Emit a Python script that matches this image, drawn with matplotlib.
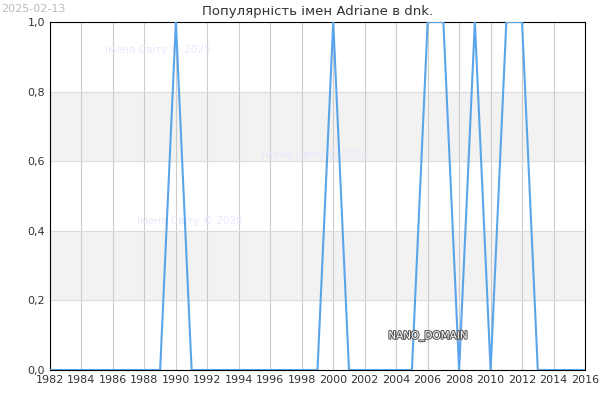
import matplotlib
matplotlib.use("Agg")
import matplotlib.pyplot as plt
import matplotlib.patheffects as pe

years = list(range(1982, 2017))
values = [0] * len(years)
for y in [1990, 2000, 2006, 2007, 2009, 2011, 2012]:
    values[years.index(y)] = 1
yticks = [0.0, 0.2, 0.4, 0.6, 0.8, 1.0]
xticks = list(range(1982, 2017, 2))

fig = plt.figure(figsize=(6, 4), dpi=100)
ax = fig.add_axes([50 / 600, 30 / 400, 535 / 600, 348 / 400])
ax.axhspan(0.2, 0.4, color="#f2f2f2", zorder=0)
ax.axhspan(0.6, 0.8, color="#f2f2f2", zorder=0)
for x in xticks:
    ax.axvline(x, color="#cccccc", lw=0.8, zorder=1)
for y in yticks:
    ax.axhline(y, color="#dddddd", lw=0.8, zorder=1)
ax.plot(years, values, color="#5aa5ea", lw=1.5, zorder=3)
ax.set_xlim(1982, 2016)
ax.set_ylim(0, 1)
ax.set_xticks(xticks)
ax.set_yticks(yticks)
ax.set_yticklabels([f"{v:.1f}".replace(".", ",") for v in yticks])
ax.tick_params(labelsize=8, length=0, colors="#333333")
for s in ax.spines.values():
    s.set_color("black")
ax.set_title("Популярність імен Adriane в dnk.", fontsize=9.5, color="#333333", pad=5)
fig.text(0.002, 0.99, "2025-02-13", fontsize=8, color="#bbbbbb", va="top")
for (tx, ty) in [(1985.5, 0.91), (1995.5, 0.61), (1987.5, 0.42)]:
    ax.text(tx, ty, "Імена Світу © 2025", fontsize=7.5, color="#e8e8ff", zorder=2)
ax.text(2003.5, 0.09, "NANO_DOMAIN", fontsize=7.5, color="#ffffff", zorder=4,
        path_effects=[pe.withStroke(linewidth=1.5, foreground="#555555")])
fig.savefig("out.png")
